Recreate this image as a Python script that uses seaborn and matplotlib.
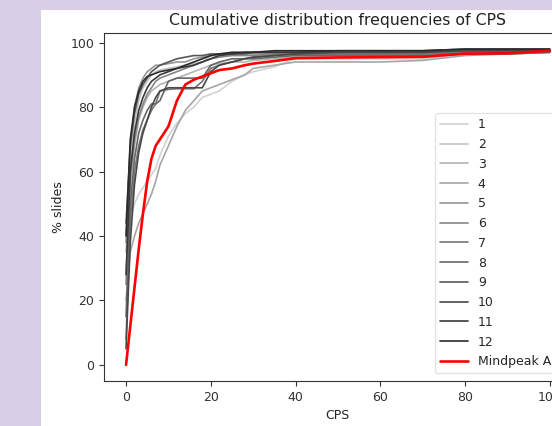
import numpy as np
import pandas as pd
import matplotlib
matplotlib.use("Agg")
import matplotlib.pyplot as plt
import seaborn as sns
from matplotlib.patches import Rectangle

# CPS values where the cumulative frequencies were read
cps = [0, 1, 2, 3, 4, 5, 6, 7, 8, 10, 12, 14, 16, 18, 20, 22, 25, 28, 30, 35, 40, 50, 60, 70, 80, 90, 100]

# cumulative % slides per pathologist (1..12)
s1 = [30, 45, 50, 53, 55, 57, 59, 61, 65, 71, 75, 78, 80, 83, 84, 85, 88, 90, 91, 92.5, 95, 95, 95, 95, 96.5, 96.5, 97]
s2 = [40, 62, 75, 82, 86, 88, 90, 91, 91.5, 92, 92.5, 93, 93.5, 94, 96, 96.5, 97, 97, 97, 97, 97, 97, 97, 97, 97.5, 97.5, 97.5]
s3 = [35, 55, 68, 76, 80, 83, 85, 86, 87, 88, 89, 90, 91, 92, 93, 93.5, 94, 94, 94.5, 95, 95.5, 95.5, 95.5, 95.5, 96.5, 96.5, 97]
s4 = [20, 35, 40, 44, 47, 50, 53, 57, 62, 68, 74, 79, 82, 85, 86, 87, 88.5, 90, 92, 93, 94, 94, 94, 94.5, 96, 96.5, 97]
s5 = [38, 66, 80, 86, 89, 91, 92, 93, 93, 93.5, 94, 94, 95, 95.5, 96, 96, 96.5, 96.5, 96.5, 96.5, 96.5, 96.5, 96.5, 96.5, 97, 97, 97]
s6 = [25, 58, 70, 77, 81, 84, 86, 88, 89, 90, 91, 92, 93, 94, 95, 95.5, 96, 96, 96, 96.5, 96.5, 96.5, 96.5, 96.5, 97, 97, 97.5]
s7 = [8, 45, 60, 68, 73, 76, 79, 81, 85, 85.5, 85.7, 85.7, 85.7, 88, 92, 93, 94, 95, 95.5, 96, 96.5, 96.5, 96.5, 96.5, 97, 97, 97.5]
s8 = [15, 50, 64, 72, 76, 79, 81, 81, 82, 88, 89, 89, 89, 89, 93, 94, 95, 95, 95, 95.5, 96, 96, 96, 96, 96.5, 96.5, 97]
s9 = [44, 68, 78, 84, 87, 89, 91, 92, 93, 94, 95, 95.5, 96, 96, 96.5, 96.5, 96.5, 96.5, 97, 97, 97, 97, 97, 97, 97.5, 97.5, 97.5]
s10 = [5, 38, 56, 66, 72, 76, 80, 83, 85, 86, 86, 86, 86, 86, 91, 93, 94, 95, 95.5, 96, 96.5, 97, 97, 97, 97.5, 97.5, 97.5]
s11 = [28, 60, 72, 79, 83, 86, 88, 89, 90, 91, 92, 92.5, 93, 94, 95, 96, 96.5, 97, 97, 97, 97, 97.5, 97.5, 97.5, 98, 98, 98]
s12 = [40, 70, 80, 85, 88, 89.5, 90, 90.5, 91, 91.5, 92, 93, 94, 95, 96, 96.5, 97, 97, 97, 97.5, 97.5, 97.5, 97.5, 97.5, 98, 98, 98]
mindpeak = [0, 12, 24, 36, 47, 57, 64, 68, 70, 74, 82, 87, 88.5, 89.5, 90.5, 91.5, 92, 93, 93.5, 94.3, 95.2, 95.4, 95.5, 95.6, 96.6, 96.7, 97.5]

labels = [str(i) for i in range(1, 13)] + ["Mindpeak AI"]
series = [s1, s2, s3, s4, s5, s6, s7, s8, s9, s10, s11, s12, mindpeak]

sns.set_style("ticks")
plt.rcParams["font.family"] = ["DejaVu Sans"]

greys = sns.blend_palette(["#d2d2d2", "#2a2a2a"], 12)
colors = list(greys) + ["red"]
widths = [1.2] * 12 + [1.9]

fig = plt.figure(figsize=(5.52, 4.26), dpi=100, facecolor="#d8cfe6")
fig.patches.append(Rectangle((41 / 552, 0), 1, (426 - 10) / 426, transform=fig.transFigure,
                             facecolor="white", edgecolor="none", zorder=-10))
ax = fig.add_axes([104 / 552, 45 / 426, 467 / 552, 348 / 426])

for vals, lab, col, lw in zip(series, labels, colors, widths):
    sns.lineplot(x=cps, y=vals, ax=ax, color=col, linewidth=lw, label=lab)

ax.set_xlim(-5.2, 105)
ax.set_ylim(-5, 103)
ax.set_xticks([0, 20, 40, 60, 80, 100])
ax.set_yticks([0, 20, 40, 60, 80, 100])
ax.tick_params(labelsize=9, length=3.5, width=0.8, colors="#333333")
for sp in ax.spines.values():
    sp.set_color("#333333")
    sp.set_linewidth(0.8)
ax.set_title("Cumulative distribution frequencies of CPS", fontsize=11.3, color="#222222")
ax.set_xlabel("CPS", fontsize=9, color="#222222")
ax.set_ylabel("% slides", fontsize=9, color="#222222")

ax.legend(loc="upper left", bbox_to_anchor=(0.696, 0.787), fontsize=9, handlelength=2.2,
          labelspacing=0.54, frameon=True, edgecolor="#dddddd")

fig.savefig("out.png", dpi=100, facecolor=fig.get_facecolor())
